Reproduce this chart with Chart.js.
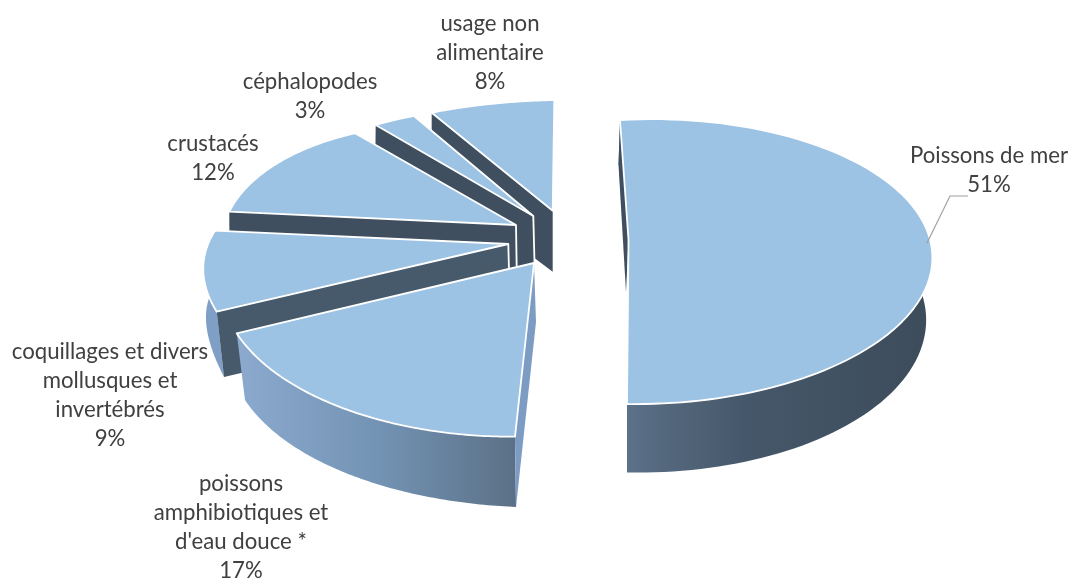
<!DOCTYPE html>
<html lang="fr">
<head>
<meta charset="utf-8">
<style>html,body{margin:0;padding:0;background:#fff}canvas{display:block}</style>
<script src="https://cdn.jsdelivr.net/npm/chart.js@4"></script>
</head>
<body>
<canvas id="c" width="1072" height="582"></canvas>
<script>
// ---- data ----
const categories = [
  ["Poissons de mer"],
  ["poissons", "amphibiotiques et", "d'eau douce *"],
  ["coquillages et divers", "mollusques et", "invertébrés"],
  ["crustacés"],
  ["céphalopodes"],
  ["usage non", "alimentaire"]
];
const shares = [51, 17, 9, 12, 3, 8];

// ---- look ----
const TOP_COLOR = "#9cc2e4";
const TEXT_COLOR = "#404040";
const FONT = '22.2px Lato, "Open Sans", sans-serif';
const LINE_GAP = 29;
const labelAnchors = [[989,156],[241,484],[110,352],[213,144],[310,82],[490,24]];
// projected corners of each exploded 3D slice: [apex, rim at start, rim at middle, rim at end]
const topFaces = [
  [[628.5,240],[620,120],[932,265],[627,404]],
  [[534,263],[515,436.7],[343.3,408.3],[236.7,333.3]],
  [[508.3,244],[216.7,311.7],[203.3,268.3],[215,230.7]],
  [[516,225],[229.3,211.7],[280,161.7],[355,133.3]],
  [[533.3,216],[375.7,125],[394.7,120],[414,116]],
  [[552.7,210.7],[431.7,112.7],[490,104],[554.3,100]]
];
const bottomFaces = [
  [[626,292],[618.5,165],[926,325],[627,472.5]],
  [[536,322],[516,507],[343.3,472],[245,400]],
  [[510,310],[224,377],[206,320],[213,290]],
  [[517,288],[229.5,276],[280,225],[355,197]],
  [[535,282],[375,190],[394.7,185],[414,181]],
  [[552.7,271.7],[431.7,181],[490,172],[554.3,168]]
];
// a wide slice has its apex almost on the chord, so its rim is fitted on a further rim point
const extraRim = {0:{frac:0.75,top:[832,367],bottom:[832,433]}};
const cutColors = ["#3f4f60","#7c9cc4","#475a6c","#3f4f5f","#3f4f5f","#3f4f5f"];
const apexEdges = [2,3,4];
const rimFills = [
  {x0:627,x1:930,stops:[[0,"#5c7289"],[0.12,"#54687d"],[0.4,"#45576a"],[1,"#3d4c5b"]]},
  {x0:243,x1:516,stops:[[0,"#8aa9cd"],[0.5,"#7393b4"],[1,"#5b7086"]]},
  {x0:205,x1:224,stops:[[0,"#7f9fc6"],[1,"#7f9fc6"]]},
  null,null,null
];
const drawOrder = [5,4,3,2,1,0];
const leader = [[927,243],[950,196],[968,196]];

// ---- projection helpers ----
function solve(A,b){
  const n=b.length;const M=A.map((r,i)=>[...r,b[i]]);
  for(let c=0;c<n;c++){
    let p=c;for(let r=c+1;r<n;r++)if(Math.abs(M[r][c])>Math.abs(M[p][c]))p=r;
    [M[c],M[p]]=[M[p],M[c]];
    for(let r=0;r<n;r++){if(r===c)continue;const f=M[r][c]/M[c][c];
      for(let k=c;k<=n;k++)M[r][k]-=f*M[c][k];}
  }
  return M.map((r,i)=>r[n]/r[i]);
}
function homography(src,dst){
  const A=[],b=[];
  src.forEach(([x,y],i)=>{const [X,Y]=dst[i];
    A.push([x,y,1,0,0,0,-x*X,-y*X]);b.push(X);
    A.push([0,0,0,x,y,1,-x*Y,-y*Y]);b.push(Y);});
  const h=solve(A,b);
  return (x,y)=>{const w=h[6]*x+h[7]*y+1;return [(h[0]*x+h[1]*y+h[2])/w,(h[3]*x+h[4]*y+h[5])/w];};
}
function rimOf(arc,face,extra,extraPoint){
  const a0=arc.startAngle,a1=arc.endAngle,am=(a0+a1)/2;
  const u=a=>[Math.cos(a),Math.sin(a)];
  const H=extra
    ? homography([u(a0+(a1-a0)*extra.frac),u(a0),u(am),u(a1)],[extraPoint,face[1],face[2],face[3]])
    : homography([[0,0],u(a0),u(am),u(a1)],face);
  const pts=[];
  for(let i=0;i<=96;i++){const a=a0+(a1-a0)*i/96;pts.push(H(Math.cos(a),Math.sin(a)));}
  return pts;
}
function poly(ctx,pts,close){
  ctx.beginPath();pts.forEach((p,i)=>i?ctx.lineTo(p[0],p[1]):ctx.moveTo(p[0],p[1]));
  if(close)ctx.closePath();
}

const pie3d={
  id:"pie3d",
  beforeDatasetDraw(chart){
    const ctx=chart.ctx;const arcs=chart.getDatasetMeta(0).data;
    ctx.save();ctx.lineJoin="round";
    drawOrder.forEach(i=>{
      const arc=arcs[i],top=topFaces[i],bot=bottomFaces[i],ex=extraRim[i];
      const rimTop=rimOf(arc,top,ex,ex&&ex.top),rimBot=rimOf(arc,bot,ex,ex&&ex.bottom);
      if(rimFills[i]){
        const f=rimFills[i],g=ctx.createLinearGradient(f.x0,0,f.x1,0);
        f.stops.forEach(s=>g.addColorStop(s[0],s[1]));
        poly(ctx,rimTop.concat(rimBot.slice().reverse()),true);
        ctx.fillStyle=g;ctx.fill();
      }
      poly(ctx,[top[1],top[0],bot[0],bot[1]],true);
      ctx.fillStyle=cutColors[i];ctx.fill();
      ctx.strokeStyle="#ffffff";ctx.lineWidth=1.8;
      if(apexEdges.includes(i)){poly(ctx,[top[0],bot[0]],false);ctx.stroke();}
      poly(ctx,[top[0]].concat(rimTop),true);
      ctx.fillStyle=TOP_COLOR;ctx.fill();
      ctx.stroke();
    });
    ctx.restore();
    return false;
  },
  afterDatasetsDraw(chart){
    const ctx=chart.ctx;
    ctx.save();
    poly(ctx,leader,false);ctx.strokeStyle="#a0a0a0";ctx.lineWidth=1.2;ctx.stroke();
    ctx.font=FONT;ctx.fillStyle=TEXT_COLOR;ctx.textAlign="center";ctx.textBaseline="middle";
    categories.forEach((lines,i)=>{
      const [x,y]=labelAnchors[i];
      lines.concat([shares[i]+"%"]).forEach((t,k)=>ctx.fillText(t,x,y+k*LINE_GAP));
    });
    ctx.restore();
  }
};

new Chart(document.getElementById("c"),{
  type:"pie",
  data:{labels:categories.map(l=>l.join(" ")),datasets:[{data:shares,backgroundColor:TOP_COLOR,borderWidth:0}]},
  options:{responsive:false,animation:false,plugins:{legend:{display:false},tooltip:{enabled:false}}},
  plugins:[pie3d]
});
</script>
</body>
</html>
